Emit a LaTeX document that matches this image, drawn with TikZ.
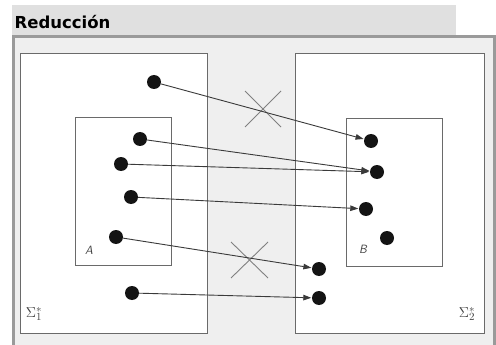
\documentclass[tikz,border=0pt]{standalone}
\usepackage{fontspec}
\newfontfamily\titlefont{DejaVu Sans}
\usetikzlibrary{arrows.meta}
\definecolor{band}{HTML}{E0E0E0}
\definecolor{framec}{HTML}{9A9A9A}
\definecolor{stip}{HTML}{EFEFEF}
\definecolor{boxc}{HTML}{6A6A6A}
\definecolor{arrc}{HTML}{3A3A3A}
\definecolor{crossc}{HTML}{808080}
\tikzset{
  setbox/.style={draw=boxc, line width=0.9pt, fill=white},
  dot/.style={circle, fill=black!92, minimum size=14pt, inner sep=0pt},
  arr/.style={draw=arrc, line width=0.9pt, -{Triangle[length=8pt,width=5.5pt]}, shorten >=0.5pt},
  crossline/.style={draw=crossc, line width=0.9pt},
  lbl/.style={text=black!75, inner sep=0pt, font=\sffamily\fontsize{15}{17}\selectfont},
  setname/.style={text=black!75, inner sep=0pt, font=\sffamily\itshape\fontsize{12}{14}\selectfont}
}
\begin{document}
\begin{tikzpicture}[x=1pt,y=-1pt]
\useasboundingbox (0,0) rectangle (496,345);
% title band
\fill[band] (12,5) rectangle (456,35);
\node[anchor=base west, inner sep=0pt, font=\titlefont\bfseries\fontsize{16.5}{18}\selectfont] (title) at (14.5,29) {Reducción};
% frame
\fill[stip] (13,36) rectangle (494,352);
\draw[framec, line width=3pt] (13.5,36.5) rectangle (494.5,352);
% boxes
\draw[setbox] (20,53) rectangle (207,333);
\draw[setbox] (295,53) rectangle (484,333);
\draw[boxc, line width=0.9pt] (75,117) rectangle (171,265);
\draw[boxc, line width=0.9pt] (346,118) rectangle (442,266);
% labels
\node[setname] (la) at (89,250) {A};
\node[setname] (lb) at (363,249) {B};
\node[lbl] (s1) at (34,314) {$\Sigma_1^{*}$};
\node[lbl] (s2) at (467,314) {$\Sigma_2^{*}$};
% crosses
\coordinate (c1a) at (245,91);
\coordinate (c1b) at (281,127);
\coordinate (c1c) at (281,91);
\coordinate (c1d) at (245,127);
\draw[crossline] (c1a) -- (c1b);
\draw[crossline] (c1c) -- (c1d);
\coordinate (c2a) at (231,242);
\coordinate (c2b) at (268,278);
\coordinate (c2c) at (268,242);
\coordinate (c2d) at (231,278);
\draw[crossline] (c2a) -- (c2b);
\draw[crossline] (c2c) -- (c2d);
% dots
\node[dot] (d1) at (154,82) {};
\node[dot] (d2) at (140,139) {};
\node[dot] (d3) at (121,164) {};
\node[dot] (d4) at (131,197) {};
\node[dot] (d5) at (116,237) {};
\node[dot] (d6) at (132,293) {};
\node[dot] (e1) at (371,141) {};
\node[dot] (e2) at (377,172) {};
\node[dot] (e3) at (366,209) {};
\node[dot] (e4) at (387,238) {};
\node[dot] (e5) at (319,269) {};
\node[dot] (e6) at (319,298) {};
% arrows
\draw[arr] (d1) -- (e1);
\draw[arr] (d2) -- (e2);
\draw[arr] (d3) -- (e2);
\draw[arr] (d4) -- (e3);
\draw[arr] (d5) -- (e5);
\draw[arr] (d6) -- (e6);
\end{tikzpicture}
\end{document}
